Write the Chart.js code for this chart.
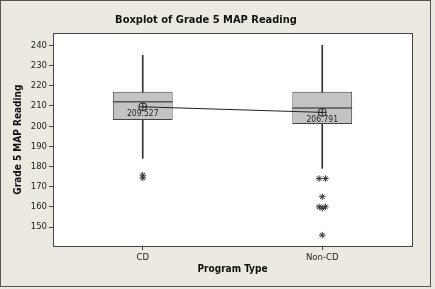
<!DOCTYPE html>
<html>
<head>
<meta charset="utf-8">
<script src="https://cdn.jsdelivr.net/npm/chart.js@4"></script>
<style>
html,body{margin:0;padding:0;background:#ece9e1;}
#wrap{width:435px;height:289px;}
</style>
</head>
<body>
<div id="wrap"><canvas id="boxChart" width="435" height="289"></canvas></div>
<script>
// data
const groups = ["CD", "Non-CD"];
const q1 = [203, 201];
const median = [212, 209];
const q3 = [217, 217];
const whiskerLow = [184, 179];
const whiskerHigh = [235, 240];
const means = [209.527, 206.791];
const outliersCD = [175.7, 174.3];
const outliersNonCD = [174, 174, 165, 160, 160, 159.3, 146];
const yTicks = [150, 160, 170, 180, 190, 200, 210, 220, 230, 240];

const FONT = "'DejaVu Sans Condensed', 'DejaVu Sans', sans-serif";
const INK = "#333333";
const BOX_PCT = 1 / 3;

// outliers as points on a hidden linear x axis, ties placed side by side
function outlierPoints(vals, gi) {
    const pts = [];
    const seen = {};
    vals.forEach(v => {
        const n = vals.filter(w => w === v).length;
        const k = seen[v] || 0;
        seen[v] = k + 1;
        pts.push({x: gi + (k - (n - 1) / 2) * 0.035, y: v});
    });
    return pts;
}
const outlierData = outlierPoints(outliersCD, 0).concat(outlierPoints(outliersNonCD, 1));

const boxExtras = {
    id: "boxExtras",
    beforeDraw(chart) {
        const ctx = chart.ctx, a = chart.chartArea;
        ctx.save();
        ctx.fillStyle = "#ece9e1";
        ctx.fillRect(0, 0, chart.width, chart.height);
        ctx.strokeStyle = "#555";
        ctx.lineWidth = 1;
        ctx.strokeRect(0.5, 0.5, 430, 286);
        ctx.fillStyle = "#ffffff";
        ctx.fillRect(a.left, a.top, a.right - a.left, a.bottom - a.top);
        ctx.restore();
    },
    afterDatasetDraw(chart, args) {
        if (args.index !== 1) return;
        const ctx = chart.ctx, y = chart.scales.y;
        const meta = chart.getDatasetMeta(1);
        ctx.save();
        ctx.strokeStyle = "#555";
        ctx.lineWidth = 1.5;
        meta.data.forEach((bar, i) => {
            const py = y.getPixelForValue(median[i]);
            ctx.beginPath();
            ctx.moveTo(bar.x - bar.width / 2, py);
            ctx.lineTo(bar.x + bar.width / 2, py);
            ctx.stroke();
        });
        ctx.restore();
    },
    afterDatasetsDraw(chart) {
        const ctx = chart.ctx, a = chart.chartArea;
        const meta = chart.getDatasetMeta(2);
        ctx.save();
        ctx.fillStyle = "#222";
        ctx.font = "8.5px " + FONT;
        ctx.textAlign = "center";
        ctx.textBaseline = "top";
        meta.data.forEach((pt, i) => {
            ctx.fillText(means[i].toFixed(3), pt.x, pt.y + 3);
        });
        ctx.strokeStyle = "#444";
        ctx.lineWidth = 1;
        ctx.strokeRect(Math.round(a.left) + 0.5, Math.round(a.top) + 0.5,
            Math.round(a.right - a.left), Math.round(a.bottom - a.top));
        ctx.restore();
    }
};

new Chart(document.getElementById("boxChart"), {
    type: "bar",
    data: {
        labels: groups,
        datasets: [{
            // whiskers
            data: groups.map((g, i) => [whiskerLow[i], whiskerHigh[i]]),
            backgroundColor: INK,
            barThickness: 1,
            grouped: false,
            order: 5
        }, {
            // boxes
            data: groups.map((g, i) => [q1[i], q3[i]]),
            backgroundColor: "#c3c3c3",
            borderColor: "#444",
            borderWidth: 1,
            borderSkipped: false,
            categoryPercentage: 1,
            barPercentage: BOX_PCT,
            grouped: false,
            order: 4
        }, {
            // mean connect line
            type: "line",
            data: means,
            borderColor: "#222",
            borderWidth: 1,
            pointStyle: "circle",
            pointRadius: 4,
            pointBorderWidth: 1,
            pointBorderColor: "#222",
            pointBackgroundColor: "rgba(0,0,0,0)",
            order: 2
        }, {
            type: "line",
            data: means,
            showLine: false,
            pointStyle: "cross",
            pointRadius: 4,
            pointBorderWidth: 1,
            pointBorderColor: "#222",
            order: 1
        }, {
            type: "scatter",
            xAxisID: "xo",
            data: outlierData,
            pointStyle: "star",
            pointRadius: 3.2,
            pointBorderWidth: 1,
            borderColor: INK,
            backgroundColor: INK,
            order: 0
        }]
    },
    options: {
        responsive: false,
        animation: false,
        events: [],
        layout: {padding: {left: 0, right: 23, top: 0, bottom: 0}},
        plugins: {
            legend: {display: false},
            tooltip: {enabled: false},
            title: {
                display: true,
                text: "Boxplot of Grade 5 MAP Reading",
                color: "#111",
                font: {family: FONT, size: 11, weight: "bold"},
                padding: {top: 14, bottom: 6}
            }
        },
        scales: {
            x: {
                type: "category",
                offset: true,
                grid: {display: true, offset: false, drawOnChartArea: false, tickLength: 4, color: "#444"},
                border: {display: false},
                ticks: {color: "#222", font: {family: FONT, size: 9.5}, padding: 2},
                title: {display: true, text: "Program Type", color: "#111",
                    font: {family: FONT, size: 10, weight: "bold"}, padding: {top: 3, bottom: 14}},
                afterFit(s) { s.height = 43; }
            },
            xo: {
                type: "linear",
                display: false,
                offset: false,
                min: -0.5,
                max: 1.5
            },
            y: {
                min: 140.6,
                max: 246,
                afterBuildTicks(axis) { axis.ticks = yTicks.map(v => ({value: v})); },
                grid: {display: true, drawOnChartArea: false, tickLength: 4, color: "#444"},
                border: {display: false},
                ticks: {color: "#222", font: {family: FONT, size: 9.5}, padding: 2},
                title: {display: true, text: "Grade 5 MAP Reading", color: "#111",
                    font: {family: FONT, size: 10, weight: "bold"}, padding: {top: 12, bottom: 4}},
                afterFit(s) { s.width = 53; }
            }
        }
    },
    plugins: [boxExtras]
});
</script>
</body>
</html>
